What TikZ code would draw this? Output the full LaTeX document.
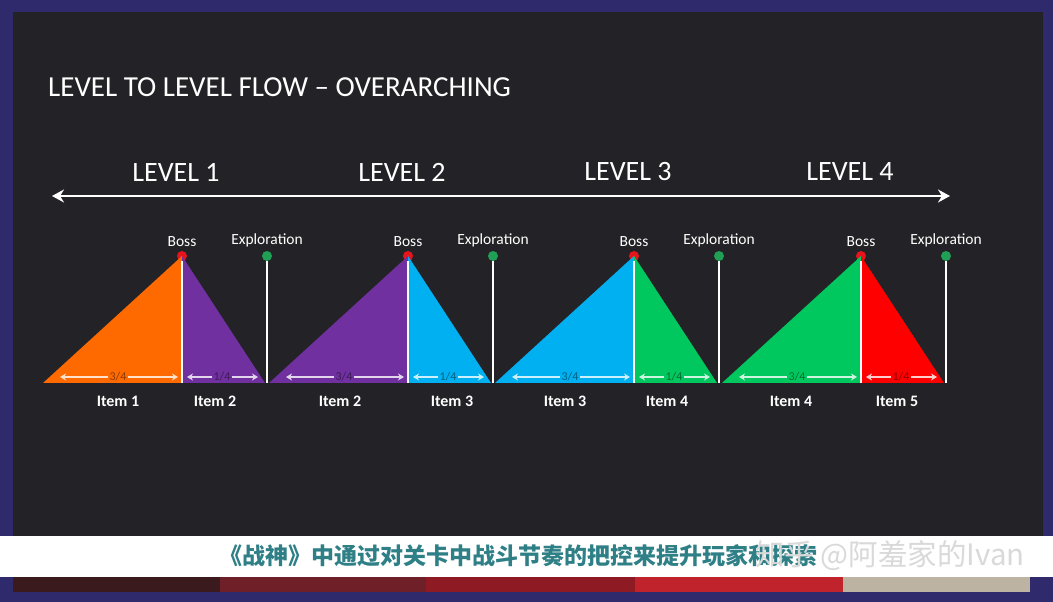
\documentclass[tikz,border=0pt]{standalone}
\usepackage{fontspec}
\setmainfont{Carlito}
\newfontfamily\cjk{Noto Sans CJK SC}
\usetikzlibrary{positioning,arrows.meta}

\definecolor{framepurple}{HTML}{2F2A6C}
\definecolor{slidebg}{HTML}{232226}
\definecolor{lvorange}{HTML}{FF6A00}
\definecolor{lvpurple}{HTML}{7030A0}
\definecolor{lvcyan}{HTML}{00B0F0}
\definecolor{lvgreen}{HTML}{00C85F}
\definecolor{lvred}{HTML}{FF0000}
\definecolor{bossred}{HTML}{E8141B}
\definecolor{explgreen}{HTML}{1FA055}
\definecolor{captionteal}{HTML}{2E7F86}
\definecolor{stripA}{HTML}{3B1A1E}
\definecolor{stripB}{HTML}{6E1F27}
\definecolor{stripC}{HTML}{8E1B24}
\definecolor{stripD}{HTML}{C1232D}
\definecolor{stripE}{HTML}{BCB3A3}

\begin{document}
\begin{tikzpicture}[x=1pt,y=1pt,>=Stealth,node distance=10pt,
    boss dot/.style={circle,fill=bossred,inner sep=0pt,minimum size=10pt},
    expl dot/.style={circle,fill=explgreen,inner sep=0pt,minimum size=10pt},
    tag/.style={text=white,inner sep=1pt,font=\fontsize{15.5}{15.5}\selectfont},
    item/.style={text=white,font=\bfseries\fontsize{16}{16}\selectfont},
    part/.style={inner sep=1pt,font=\fontsize{12}{12}\selectfont},
    level/.style={text=white,font=\fontsize{28}{28}\selectfont},
    span/.style={->,line width=1.6pt,>={Stealth[length=6pt,width=7pt]}},
    pole/.style={white,line width=2.5pt},
    flow/.style={<->,white,line width=2.5pt,>={Stealth[length=12pt,width=13pt]}}]
    \useasboundingbox (0,0) rectangle (1053,602);
    % frame, slide and caption band
    \fill[framepurple] (0,0) rectangle (1053,602);
    \fill[slidebg] (13,65) rectangle (1043,590);
    \fill[white] (0,25) rectangle (1053,66);
    \fill[stripA] (13,10) rectangle (220,25);
    \fill[stripB] (220,10) rectangle (426,25);
    \fill[stripC] (426,10) rectangle (635,25);
    \fill[stripD] (635,10) rectangle (843,25);
    \fill[stripE] (843,10) rectangle (1030,25);

    \node[text=white,anchor=base west,inner sep=0pt,font=\fontsize{29}{29}\selectfont] (title) at (48,505) {LEVEL TO LEVEL FLOW -- OVERARCHING};

    \node[level] (lv1) at (176,430) {LEVEL 1};
    \node[level] (lv2) at (402,430) {LEVEL 2};
    \node[level] (lv3) at (628,430) {LEVEL 3};
    \node[level] (lv4) at (850,430) {LEVEL 4};
    \coordinate (flowL) at (52,406);
    \coordinate (flowR) at (950,406);
    \draw[flow] (flowL) -- (flowR);

    % level 1
    \coordinate (s1) at (43,219);
    \coordinate (m1) at (182,219);
    \coordinate (e1) at (265,219);
    \node[boss dot] (boss1) at (182,346) {};
    \node[expl dot] (expl1) at (267,346) {};
    \fill[lvorange] (s1) -- (boss1.center) -- (m1) -- cycle;
    \fill[lvpurple] (m1) -- (boss1.center) -- (e1) -- cycle;
    \path[pole] (boss1) edge (m1) (expl1) edge (expl1 |- m1);
    \node[tag,above=3pt of boss1] (bosstag1) {Boss};
    \node[tag,above=3pt of expl1] (expltag1) {Exploration};
    \node[part,text=lvorange!55!black] (qL1) at (118,225) {3/4};
    \draw[span,lvorange!20!white,shorten >=4pt] (qL1) -- (qL1 -| boss1);
    \draw[span,lvorange!20!white,shorten >=17pt] (qL1) -- (qL1 -| s1);
    \node[part,text=lvpurple!55!black] (qR1) at (222,225) {1/4};
    \draw[span,lvpurple!20!white,shorten >=5pt] (qR1) -- (qR1 -| boss1);
    \draw[span,lvpurple!20!white,shorten >=7pt] (qR1) -- (qR1 -| e1);
    \node[item] (itL1) at (118,201) {Item 1};
    \node[item] (itR1) at (215,201) {Item 2};

    % level 2
    \coordinate (s2) at (269,219);
    \coordinate (m2) at (408,219);
    \coordinate (e2) at (491,219);
    \node[boss dot] (boss2) at (408,346) {};
    \node[expl dot] (expl2) at (493,346) {};
    \fill[lvpurple] (s2) -- (boss2.center) -- (m2) -- cycle;
    \fill[lvcyan] (m2) -- (boss2.center) -- (e2) -- cycle;
    \path[pole] (boss2) edge (m2) (expl2) edge (expl2 |- m2);
    \node[tag,above=3pt of boss2] (bosstag2) {Boss};
    \node[tag,above=3pt of expl2] (expltag2) {Exploration};
    \node[part,text=lvpurple!55!black] (qL2) at (344,225) {3/4};
    \draw[span,lvpurple!20!white,shorten >=4pt] (qL2) -- (qL2 -| boss2);
    \draw[span,lvpurple!20!white,shorten >=17pt] (qL2) -- (qL2 -| s2);
    \node[part,text=lvcyan!55!black] (qR2) at (448,225) {1/4};
    \draw[span,lvcyan!20!white,shorten >=5pt] (qR2) -- (qR2 -| boss2);
    \draw[span,lvcyan!20!white,shorten >=7pt] (qR2) -- (qR2 -| e2);
    \node[item] (itL2) at (340,201) {Item 2};
    \node[item] (itR2) at (452,201) {Item 3};

    % level 3
    \coordinate (s3) at (495,219);
    \coordinate (m3) at (634,219);
    \coordinate (e3) at (717,219);
    \node[boss dot] (boss3) at (634,346) {};
    \node[expl dot] (expl3) at (719,346) {};
    \fill[lvcyan] (s3) -- (boss3.center) -- (m3) -- cycle;
    \fill[lvgreen] (m3) -- (boss3.center) -- (e3) -- cycle;
    \path[pole] (boss3) edge (m3) (expl3) edge (expl3 |- m3);
    \node[tag,above=3pt of boss3] (bosstag3) {Boss};
    \node[tag,above=3pt of expl3] (expltag3) {Exploration};
    \node[part,text=lvcyan!55!black] (qL3) at (570,225) {3/4};
    \draw[span,lvcyan!20!white,shorten >=4pt] (qL3) -- (qL3 -| boss3);
    \draw[span,lvcyan!20!white,shorten >=17pt] (qL3) -- (qL3 -| s3);
    \node[part,text=lvgreen!55!black] (qR3) at (674,225) {1/4};
    \draw[span,lvgreen!20!white,shorten >=5pt] (qR3) -- (qR3 -| boss3);
    \draw[span,lvgreen!20!white,shorten >=7pt] (qR3) -- (qR3 -| e3);
    \node[item] (itL3) at (565,201) {Item 3};
    \node[item] (itR3) at (667,201) {Item 4};

    % level 4
    \coordinate (s4) at (722,219);
    \coordinate (m4) at (861,219);
    \coordinate (e4) at (944,219);
    \node[boss dot] (boss4) at (861,346) {};
    \node[expl dot] (expl4) at (946,346) {};
    \fill[lvgreen] (s4) -- (boss4.center) -- (m4) -- cycle;
    \fill[lvred] (m4) -- (boss4.center) -- (e4) -- cycle;
    \path[pole] (boss4) edge (m4) (expl4) edge (expl4 |- m4);
    \node[tag,above=3pt of boss4] (bosstag4) {Boss};
    \node[tag,above=3pt of expl4] (expltag4) {Exploration};
    \node[part,text=lvgreen!55!black] (qL4) at (797,225) {3/4};
    \draw[span,lvgreen!20!white,shorten >=4pt] (qL4) -- (qL4 -| boss4);
    \draw[span,lvgreen!20!white,shorten >=17pt] (qL4) -- (qL4 -| s4);
    \node[part,text=lvred!55!black] (qR4) at (901,225) {1/4};
    \draw[span,lvred!20!white,shorten >=5pt] (qR4) -- (qR4 -| boss4);
    \draw[span,lvred!20!white,shorten >=7pt] (qR4) -- (qR4 -| e4);
    \node[item] (itL4) at (791,201) {Item 4};
    \node[item] (itR4) at (897,201) {Item 5};

    % caption with watermark over it
    \node[anchor=west,inner sep=0pt,text=captionteal,font=\cjk\bfseries\fontsize{23}{23}\selectfont] (caption) at (219,46) {《战神》中通过对关卡中战斗节奏的把控来提升玩家和探索};
    \node[anchor=east,inner sep=0pt,text=black!15,font=\cjk\fontsize{29.5}{30}\selectfont] (mark) at (1025,46) {知乎 @阿羞家的Ivan};
\end{tikzpicture}
\end{document}
